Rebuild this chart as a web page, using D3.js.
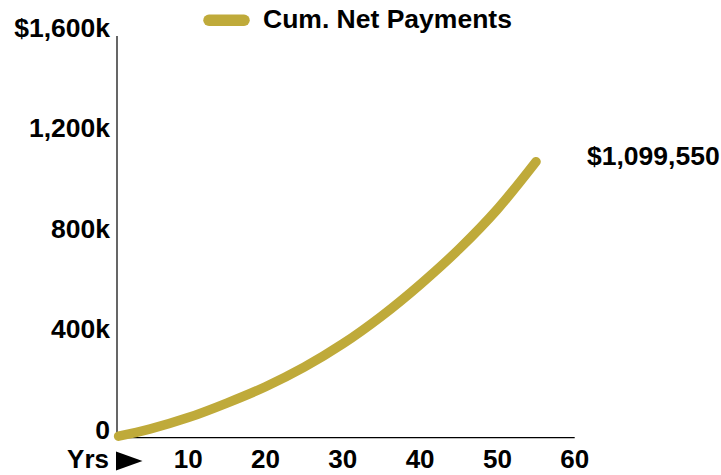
<!DOCTYPE html>
<html>
<head>
<meta charset="utf-8">
<script src="https://cdn.jsdelivr.net/npm/d3@7"></script>
<style>
  html, body { margin: 0; padding: 0; background: #fff; }
  svg { display: block; }
  text { font-family: "Liberation Sans", Arial, Helvetica, sans-serif; font-weight: bold; fill: #000; }
</style>
</head>
<body>
<svg id="chart" width="721" height="475"></svg>
<script>
// Cumulative net payments by year
const years = [1, 5, 10, 15, 20, 25, 30, 35, 40, 45, 50, 55];
const cumNetPayments = [6000, 34000, 80000, 138000, 203000, 281000, 374000, 484000, 610000, 750000, 910000, 1099550];

const seriesName = "Cum. Net Payments";
const xTicks = [10, 20, 30, 40, 50, 60];
const yTicks = [0, 400000, 800000, 1200000, 1600000];
const yTickLabels = ["0", "400k", "800k", "1,200k", "$1,600k"];
const xAxisTitle = "Yrs";

const lineColor = "#BFAA3A";

const svg = d3.select("#chart");

const plotLeft = 117;
const x = d3.scaleLinear().domain([0, 60]).range([110.9, 574.7]);
const y = d3.scaleLinear().domain([0, 1600000]).range([437.7, 36]);

// axis lines (no tick marks)
svg.append("line")
  .attr("x1", plotLeft).attr("x2", plotLeft)
  .attr("y1", y(1600000)).attr("y2", y(0))
  .attr("stroke", "#000").attr("stroke-width", 1.2);
svg.append("line")
  .attr("x1", plotLeft).attr("x2", x(60))
  .attr("y1", y(0)).attr("y2", y(0))
  .attr("stroke", "#000").attr("stroke-width", 1.2);

// y tick labels
svg.append("g").selectAll("text")
  .data(yTicks)
  .join("text")
  .attr("x", 110)
  .attr("y", d => y(d) + 1)
  .attr("text-anchor", "end")
  .style("font-size", "26.5px")
  .text((d, i) => yTickLabels[i]);

// x tick labels
svg.append("g").selectAll("text")
  .data(xTicks)
  .join("text")
  .attr("x", d => x(d))
  .attr("y", 468)
  .attr("text-anchor", "middle")
  .style("font-size", "26px")
  .text(d => d);

// axis title followed by a pointer arrow
svg.append("text")
  .attr("x", 109)
  .attr("y", 468)
  .attr("text-anchor", "end")
  .style("font-size", "26px")
  .text(xAxisTitle);
svg.append("path")
  .attr("d", "M116,451.5 L142.5,461 L116,470.5 Z")
  .attr("fill", "#000");

// series line
const line = d3.line()
  .x((d, i) => x(years[i]))
  .y(d => y(d))
  .curve(d3.curveCatmullRom);

svg.append("path")
  .datum(cumNetPayments)
  .attr("d", line)
  .attr("fill", "none")
  .attr("stroke", lineColor)
  .attr("stroke-width", 9.5)
  .attr("stroke-linecap", "round")
  .attr("stroke-linejoin", "round");

// end value label
const lastVal = cumNetPayments[cumNetPayments.length - 1];
svg.append("text")
  .attr("x", 587)
  .attr("y", y(lastVal) + 3.5)
  .attr("text-anchor", "start")
  .style("font-size", "26.5px")
  .text(d3.format("$,")(lastVal));

// legend
svg.append("line")
  .attr("x1", 209).attr("x2", 244)
  .attr("y1", 20.2).attr("y2", 20.2)
  .attr("stroke", lineColor)
  .attr("stroke-width", 11.5)
  .attr("stroke-linecap", "round");
svg.append("text")
  .attr("x", 263)
  .attr("y", 28)
  .style("font-size", "26.5px")
  .text(seriesName);
</script>
</body>
</html>
